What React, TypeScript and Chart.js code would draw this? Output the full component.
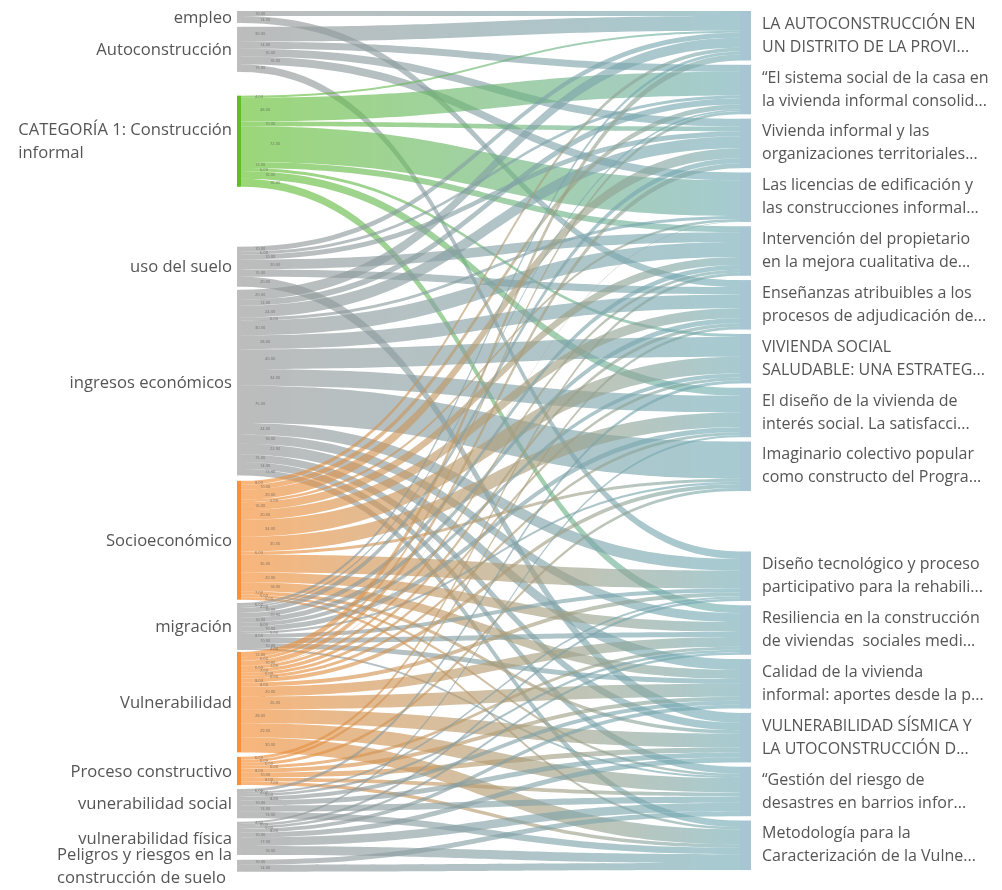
import React, { useEffect, useRef } from "react";
import { Chart, registerables } from "chart.js";

Chart.register(...registerables);

// ---------- data ----------
const sourceLabels = [
  "empleo",
  "Autoconstrucción",
  "CATEGORÍA 1: Construcción\ninformal",
  "uso del suelo",
  "ingresos económicos",
  "Socioeconómico",
  "migración",
  "Vulnerabilidad",
  "Proceso constructivo",
  "vunerabilidad social",
  "vulnerabilidad física",
  "Peligros y riesgos en la\nconstrucción de suelo",
];

const targetLabels = [
  "LA AUTOCONSTRUCCIÓN EN\nUN DISTRITO DE LA PROVI...",
  "“El sistema social de la casa en\nla vivienda informal consolid...",
  "Vivienda informal y las\norganizaciones territoriales...",
  "Las licencias de edificación y\nlas construcciones informal...",
  "Intervención del propietario\nen la mejora cualitativa de...",
  "Enseñanzas atribuibles a los\nprocesos de adjudicación de...",
  "VIVIENDA SOCIAL\nSALUDABLE: UNA ESTRATEG...",
  "El diseño de la vivienda de\ninterés social. La satisfacci...",
  "Imaginario colectivo popular\ncomo constructo del Progra...",
  "Diseño tecnológico y proceso\nparticipativo para la rehabili...",
  "Resiliencia en la construcción\nde viviendas  sociales medi...",
  "Calidad de la vivienda\ninformal: aportes desde la p...",
  "VULNERABILIDAD SÍSMICA Y\nLA UTOCONSTRUCCIÓN D...",
  "“Gestión del riesgo de\ndesastres en barrios infor...",
  "Metodología para la\nCaracterización de la Vulne...",
];

// flows from each source to the 15 targets (same order as targetLabels)
const empleoFlows = [10, 0, 0, 0, 0, 14, 0, 0, 0, 0, 0, 0, 0, 0, 0];
const autoconstruccionFlows = [30, 14, 16, 16, 0, 0, 0, 0, 0, 15, 0, 0, 0, 0, 0];
const categoria1Flows = [4, 48, 10, 72, 12, 0, 6, 16, 0, 0, 16, 0, 0, 0, 0];
const usoSueloFlows = [10, 6, 10, 0, 20, 15, 0, 0, 0, 0, 0, 0, 20, 0, 0];
const ingresosFlows = [20, 12, 24, 6, 30, 28, 40, 34, 75, 24, 18, 22, 15, 14, 13];
const socioeconomicoFlows = [8, 10, 20, 5, 16, 20, 34, 30, 6, 36, 20, 18, 7, 5, 5];
const migracionFlows = [6, 4, 10, 0, 10, 10, 8, 10, 5, 8, 10, 10, 0, 4, 0];
const vulnerabilidadFlows = [12, 6, 10, 1, 6, 7, 6, 6, 8, 8, 20, 26, 28, 29, 30];
const procesoFlows = [0, 0, 0, 0, 6, 6, 0, 0, 6, 0, 6, 8, 10, 8, 7];
const vulSocialFlows = [0, 0, 0, 0, 0, 0, 6, 0, 0, 4, 5, 8, 10, 13, 13];
const vulFisicaFlows = [0, 0, 0, 0, 0, 0, 0, 4, 0, 5, 5, 8, 10, 17, 18];
const peligrosFlows = [0, 0, 0, 0, 0, 0, 0, 0, 0, 0, 0, 0, 0, 10, 14];

const flows = [
  empleoFlows,
  autoconstruccionFlows,
  categoria1Flows,
  usoSueloFlows,
  ingresosFlows,
  socioeconomicoFlows,
  migracionFlows,
  vulnerabilidadFlows,
  procesoFlows,
  vulSocialFlows,
  vulFisicaFlows,
  peligrosFlows,
];

// ---------- layout / style (not data) ----------
const leftGaps = [0, 8, 48, 121, 6, 11, 6.5, 4, 9, 8, 7, 10];
const rightGaps = [0, 8.7, 8.7, 8.7, 8.7, 8.7, 8.7, 8.7, 8.7, 122, 8.7, 8.7, 8.7, 8.7, 8.7];
const Y_MAX = 1735;
const W = 1002;
const H = 890;
const LEFT_X = 237;
const RIGHT_X = 751;
const LEFT_NODE_W = 4;
const RIGHT_NODE_W = 11;

const GRAY = [150, 150, 150];
const GREEN = [99, 192, 45];
const ORANGE = [245, 140, 48];
const TEAL = [112, 170, 180];
const sourceColorKind = ["g", "g", "G", "g", "g", "O", "g", "O", "O", "g", "g", "g"];

function rgba(c: number[], a: number) {
  return `rgba(${c[0]},${c[1]},${c[2]},${a})`;
}
function colorOf(k: string) {
  return k === "G" ? GREEN : k === "O" ? ORANGE : GRAY;
}
function nodeColorOf(k: string) {
  return k === "G" ? "#5cbf2a" : k === "O" ? "#f7903a" : "#bdbdbd";
}

const LEFT_FONT = '16.6px "Open Sans", "Noto Sans", sans-serif';
const RIGHT_FONT = '16px "Open Sans", "Noto Sans", sans-serif';

const sankeyPlugin = {
  id: "sankeyDraw",
  afterDatasetsDraw(chart: any) {
    const ctx: CanvasRenderingContext2D = chart.ctx;
    const xs = chart.scales.x;
    const ys = chart.scales.y;
    const xL = xs.getPixelForValue(0);
    const xR = xs.getPixelForValue(1);
    const x0 = xL + LEFT_NODE_W;
    const x1 = xR - RIGHT_NODE_W;
    const xm = (x0 + x1) / 2;

    const nS = flows.length;
    const nT = targetLabels.length;
    const srcTot = flows.map((r) => r.reduce((a, b) => a + b, 0));
    const tgtTot = targetLabels.map((_, j) => flows.reduce((a, r) => a + r[j], 0));

    const srcTop: number[] = [];
    let acc = 0;
    for (let i = 0; i < nS; i++) {
      acc += leftGaps[i];
      srcTop.push(acc);
      acc += srcTot[i];
    }
    const tgtTop: number[] = [];
    acc = 0;
    for (let j = 0; j < nT; j++) {
      acc += rightGaps[j];
      tgtTop.push(acc);
      acc += tgtTot[j];
    }

    const tgtOffset: number[][] = [];
    for (let j = 0; j < nT; j++) {
      let o = tgtTop[j];
      for (let i = 0; i < nS; i++) {
        if (!tgtOffset[i]) tgtOffset[i] = [];
        tgtOffset[i][j] = o;
        o += flows[i][j];
      }
    }

    ctx.save();
    const valueLabels: { x: number; y: number; t: string }[] = [];
    for (let i = 0; i < nS; i++) {
      let so = srcTop[i];
      const col = colorOf(sourceColorKind[i]);
      let k = 0;
      for (let j = 0; j < nT; j++) {
        const v = flows[i][j];
        if (!v) continue;
        const sy0 = ys.getPixelForValue(so);
        const sy1 = ys.getPixelForValue(so + v);
        const ty0 = ys.getPixelForValue(tgtOffset[i][j]);
        const ty1 = ys.getPixelForValue(tgtOffset[i][j] + v);
        const grad = ctx.createLinearGradient(x0, 0, x1, 0);
        grad.addColorStop(0, rgba(col, 0.64));
        grad.addColorStop(1, rgba(TEAL, 0.62));
        ctx.fillStyle = grad;
        ctx.beginPath();
        ctx.moveTo(x0, sy0);
        ctx.bezierCurveTo(xm, sy0, xm, ty0, x1, ty0);
        ctx.lineTo(x1, ty1);
        ctx.bezierCurveTo(xm, ty1, xm, sy1, x0, sy1);
        ctx.closePath();
        ctx.fill();
        valueLabels.push({ x: x0 + 14 + (k % 4) * 5, y: (sy0 + sy1) / 2, t: v.toFixed(2) });
        k++;
        so += v;
      }
    }

    ctx.fillStyle = "rgba(80,80,80,0.7)";
    ctx.font = '4px "Open Sans", sans-serif';
    ctx.textAlign = "left";
    ctx.textBaseline = "middle";
    for (const l of valueLabels) ctx.fillText(l.t, l.x, l.y);

    for (let i = 0; i < nS; i++) {
      const t = ys.getPixelForValue(srcTop[i]);
      const b = ys.getPixelForValue(srcTop[i] + srcTot[i]);
      ctx.fillStyle = nodeColorOf(sourceColorKind[i]);
      ctx.fillRect(xL, t, LEFT_NODE_W, b - t);
    }
    for (let j = 0; j < nT; j++) {
      const t = ys.getPixelForValue(tgtTop[j]);
      const b = ys.getPixelForValue(tgtTop[j] + tgtTot[j]);
      ctx.fillStyle = "#a8c5d3";
      ctx.fillRect(x1, t, RIGHT_NODE_W, b - t);
    }

    ctx.fillStyle = "#555555";
    ctx.textBaseline = "middle";
    const LH = 23;
    ctx.font = LEFT_FONT;
    for (let i = 0; i < nS; i++) {
      const lines = sourceLabels[i].split("\n");
      const cy = ys.getPixelForValue(srcTop[i] + srcTot[i] / 2) + 1;
      const maxW = Math.max(...lines.map((s) => ctx.measureText(s).width));
      const bx = xL - 5 - maxW;
      lines.forEach((s, n) => {
        const yy = cy + (n - (lines.length - 1) / 2) * LH;
        if (lines.length === 1) {
          ctx.textAlign = "right";
          ctx.fillText(s, xL - 5, yy);
        } else {
          ctx.textAlign = "left";
          ctx.fillText(s, bx, yy);
        }
      });
    }
    ctx.font = RIGHT_FONT;
    ctx.textAlign = "left";
    for (let j = 0; j < nT; j++) {
      const lines = targetLabels[j].split("\n");
      const cy = ys.getPixelForValue(tgtTop[j] + tgtTot[j] / 2);
      lines.forEach((s, n) => {
        const yy = cy + (n - (lines.length - 1) / 2) * LH;
        ctx.fillText(s, xR + 11, yy);
      });
    }
    ctx.restore();
  },
};

export default function App() {
  const ref = useRef<HTMLCanvasElement | null>(null);
  useEffect(() => {
    document.body.style.margin = "0";
    const canvas = ref.current;
    if (!canvas) return;
    const chart = new Chart(canvas, {
      type: "scatter",
      data: { datasets: [{ data: [] }] },
      options: {
        animation: false,
        responsive: false,
        devicePixelRatio: 1,
        layout: {
          padding: { left: LEFT_X, right: W - RIGHT_X, top: 11, bottom: H - 870 },
        },
        scales: {
          x: { type: "linear", min: 0, max: 1, display: false },
          y: { type: "linear", min: 0, max: Y_MAX, reverse: true, display: false },
        },
        plugins: { legend: { display: false }, tooltip: { enabled: false } },
      },
      plugins: [sankeyPlugin],
    } as any);
    return () => chart.destroy();
  }, []);
  return (
    <div style={{ width: W, height: H, background: "#fff" }}>
      <canvas ref={ref} width={W} height={H} style={{ display: "block", width: W, height: H }} />
    </div>
  );
}
